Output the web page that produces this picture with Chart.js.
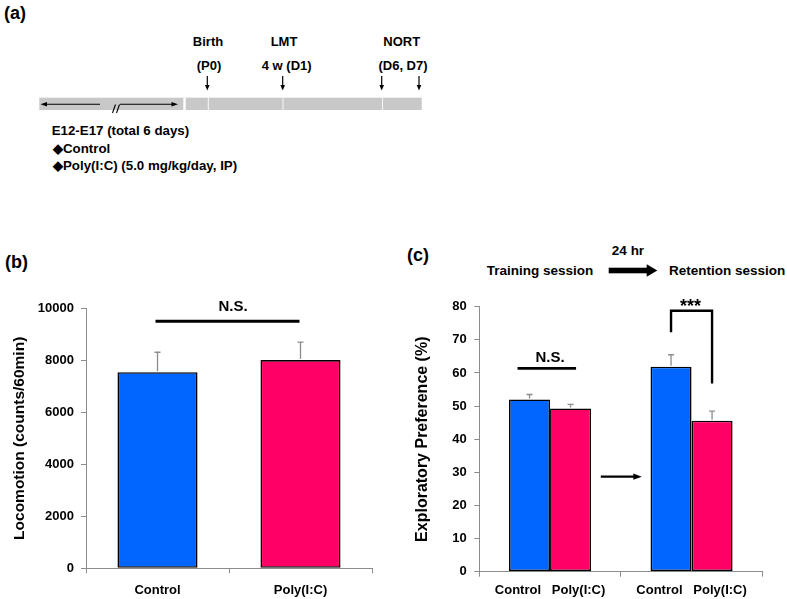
<!DOCTYPE html>
<html><head><meta charset="utf-8">
<script src="https://cdn.jsdelivr.net/npm/chart.js@4.4.1/dist/chart.umd.min.js"></script>
<style>
html,body{margin:0;padding:0;background:#fff;}
body{width:787px;height:599px;position:relative;overflow:hidden;font-family:"Liberation Sans",Arial,sans-serif;}
.abs{position:absolute;}
svg text{font-family:"Liberation Sans",Arial,sans-serif;font-weight:bold;fill:#000;}
</style></head><body>
<svg class="abs" style="left:0;top:0" width="787" height="599">
  <!-- panel labels -->
  <text x="4" y="13" font-size="18" dominant-baseline="central">(a)</text>
  <text x="5" y="262" font-size="18" dominant-baseline="central">(b)</text>
  <text x="407" y="255" font-size="18" dominant-baseline="central">(c)</text>
  <!-- timeline -->
  <rect x="39.3" y="97.7" width="382.4" height="12.3" fill="#c8c8c8"/>
  <rect x="183.3" y="97.7" width="2.4" height="12.3" fill="#fff"/>
  <rect x="207.8" y="97.7" width="1.1" height="12.3" fill="#f4f4f4"/>
  <rect x="282.5" y="97.7" width="1.1" height="12.3" fill="#f4f4f4"/>
  <rect x="382" y="97.7" width="1.1" height="12.3" fill="#f4f4f4"/>
  <g stroke="#000" stroke-width="1.1" fill="none">
    <line x1="45" y1="104.3" x2="100" y2="104.3"/>
    <line x1="120" y1="104.3" x2="174" y2="104.3"/>
    <line x1="112.5" y1="113" x2="115.5" y2="104.5"/>
    <line x1="116.5" y1="113" x2="119.5" y2="104.5"/>
  </g>
  <polygon points="40.5,104.3 47,102 47,106.6" fill="#000"/>
  <polygon points="178,104.3 171.5,102 171.5,106.6" fill="#000"/>
  <g stroke="#000" stroke-width="1.2">
    <line x1="207.3" y1="76" x2="207.3" y2="86"/>
    <line x1="282.7" y1="76" x2="282.7" y2="86"/>
    <line x1="381.7" y1="76" x2="381.7" y2="86"/>
    <line x1="419" y1="76" x2="419" y2="86"/>
  </g>
  <g fill="#000">
    <polygon points="205,85 209.6,85 207.3,90.5"/>
    <polygon points="280.4,85 285,85 282.7,90.5"/>
    <polygon points="379.4,85 384,85 381.7,90.5"/>
    <polygon points="416.7,85 421.3,85 419,90.5"/>
  </g>
  <g font-size="13" text-anchor="middle" dominant-baseline="central">
    <text x="208" y="41.7">Birth</text>
    <text x="209" y="65">(P0)</text>
    <text x="284" y="41.7">LMT</text>
    <text x="286.7" y="65">4 w (D1)</text>
    <text x="401.7" y="41.7">NORT</text>
    <text x="403" y="65">(D6, D7)</text>
  </g>
  <g font-size="13.3" dominant-baseline="central">
    <text x="51.7" y="130">E12-E17 (total 6 days)</text>
    <text x="53" y="148.3">◆Control</text>
    <text x="53" y="165.7">◆Poly(I:C) (5.0 mg/kg/day, IP)</text>
  </g>
  <!-- panel c header -->
  <g font-size="13.5" dominant-baseline="central">
    <text x="628" y="250.7" text-anchor="middle">24 hr</text>
    <text x="486.7" y="270">Training session</text>
    <text x="669" y="270">Retention session</text>
  </g>
  <rect x="608.7" y="267.7" width="39" height="5.6" fill="#000"/>
  <polygon points="646.7,264.3 657.3,270.5 646.7,276.7" fill="#000"/>
</svg>
<canvas class="abs" id="chartB" width="385" height="319" style="left:0;top:280px"></canvas>
<canvas class="abs" id="chartC" width="407" height="369" style="left:380px;top:230px"></canvas>
<script>
// ---------- data ----------
const locoCategories = ['Control', 'Poly(I:C)'];
const locoMeans = [7540, 8010];
const locoErrors = [770, 690];
const locoTicks = [0, 2000, 4000, 6000, 8000, 10000];

const nortGroups = ['Control   Poly(I:C)', 'Control   Poly(I:C)']; // Training, Retention
const nortSeries = ['Control', 'Poly(I:C)'];
const nortControlMeans = [52.0, 61.9];
const nortControlErrors = [1.5, 3.6];
const nortPolyMeans = [49.3, 45.6];
const nortPolyErrors = [1.2, 2.9];
const nortTicks = [0, 10, 20, 30, 40, 50, 60, 70, 80];

// ---------- styles ----------
const FAMILY = '"Liberation Sans", Arial, sans-serif';
const BLUE = '#0066FF', PINK = '#FF0066', AXIS = '#8c8c8c';

function makeErrorBars(errs) {
  return {
    id: 'errorBars',
    afterDatasetsDraw(chart) {
      const ctx = chart.ctx, ys = chart.scales.y;
      chart.data.datasets.forEach((ds, i) => {
        const meta = chart.getDatasetMeta(i);
        meta.data.forEach((bar, j) => {
          const top = ys.getPixelForValue(ds.data[j] + errs[i][j]);
          ctx.save();
          ctx.strokeStyle = AXIS; ctx.lineWidth = 1.3;
          ctx.beginPath();
          ctx.moveTo(bar.x, bar.y - 1); ctx.lineTo(bar.x, top);
          ctx.moveTo(bar.x - 3, top); ctx.lineTo(bar.x + 3, top);
          ctx.stroke(); ctx.restore();
        });
      });
    }
  };
}

function yAxis(ticks, max, title, width, titlePad, titleSize, tickPad) {
  return {
    min: 0, max: max,
    afterBuildTicks: s => { s.ticks = ticks.map(v => ({ value: v })); },
    afterFit: s => { s.width = width; },
    grid: { drawOnChartArea: false, drawTicks: true, tickLength: 5, color: AXIS, lineWidth: 1 },
    border: { display: true, color: AXIS, width: 1 },
    ticks: { color: '#000', font: { family: FAMILY, size: 13, weight: 'bold' }, padding: tickPad, callback: v => String(v) },
    title: { display: true, text: title, color: '#000', font: { family: FAMILY, size: titleSize, weight: 'bold' }, padding: { top: titlePad, bottom: 0 } }
  };
}
function xAxis(height, pad) {
  return {
    offset: true,
    afterFit: s => { s.height = height; },
    grid: { offset: true, drawOnChartArea: false, drawTicks: true, tickLength: 5, color: AXIS, lineWidth: 1 },
    border: { display: true, color: AXIS, width: 1 },
    ticks: { color: '#000', font: { family: FAMILY, size: 13, weight: 'bold' }, padding: pad, maxRotation: 0, autoSkip: false }
  };
}

// ---------- chart (b) ----------
const annotB = {
  id: 'annotB',
  afterDraw(chart) {
    const ctx = chart.ctx, xs = chart.scales.x, ys = chart.scales.y;
    const x0 = xs.getPixelForValue(0), x1 = xs.getPixelForValue(1);
    const yl = ys.getPixelForValue(9500);
    ctx.save();
    ctx.strokeStyle = '#000'; ctx.lineWidth = 3;
    ctx.beginPath(); ctx.moveTo(x0 - 2, yl); ctx.lineTo(x1 - 1, yl); ctx.stroke();
    ctx.fillStyle = '#000'; ctx.font = 'bold 15px ' + FAMILY;
    ctx.textAlign = 'center'; ctx.textBaseline = 'middle';
    ctx.fillText('N.S.', (x0 + x1) / 2 + 4, ys.getPixelForValue(10060));
    ctx.restore();
  }
};
new Chart(document.getElementById('chartB'), {
  type: 'bar',
  data: {
    labels: locoCategories,
    datasets: [{
      data: locoMeans,
      backgroundColor: [BLUE, PINK],
      borderColor: '#000', borderWidth: 1.6, borderSkipped: false,
      barPercentage: 0.56, categoryPercentage: 1.0
    }]
  },
  options: {
    responsive: false, animation: false, devicePixelRatio: 1,
    layout: { padding: { top: 28.3, right: 13, left: 0, bottom: 0 } },
    plugins: { legend: { display: false }, tooltip: { enabled: false } },
    scales: {
      x: xAxis(30.7, 9),
      y: yAxis(locoTicks, 10000, 'Locomotion (counts/60min)', 86, 10.2, 15.5, 7)
    }
  },
  plugins: [makeErrorBars([locoErrors]), annotB]
});

// ---------- chart (c) ----------
const annotC = {
  id: 'annotC',
  afterDraw(chart) {
    const ctx = chart.ctx, xs = chart.scales.x, ys = chart.scales.y;
    const m0 = chart.getDatasetMeta(0), m1 = chart.getDatasetMeta(1);
    ctx.save();
    ctx.strokeStyle = '#000'; ctx.fillStyle = '#000';
    // N.S. over training session
    const c0 = m0.data[0].x, p0 = m1.data[0].x;
    const yl = ys.getPixelForValue(61.4);
    ctx.lineWidth = 2.7;
    ctx.beginPath(); ctx.moveTo(c0 - 12, yl); ctx.lineTo(p0 + 5.5, yl); ctx.stroke();
    ctx.font = 'bold 15px ' + FAMILY; ctx.textAlign = 'center'; ctx.textBaseline = 'middle';
    ctx.fillText('N.S.', (c0 + p0) / 2, ys.getPixelForValue(64.6));
    // bracket *** over retention session
    const c1 = m0.data[1].x, p1 = m1.data[1].x;
    const yt = ys.getPixelForValue(78.8);
    ctx.lineWidth = 2.4; ctx.lineJoin = 'miter';
    ctx.beginPath();
    ctx.moveTo(c1, ys.getPixelForValue(72.3));
    ctx.lineTo(c1, yt); ctx.lineTo(p1, yt);
    ctx.lineTo(p1, ys.getPixelForValue(56.8));
    ctx.stroke();
    ctx.font = 'bold 18px ' + FAMILY; ctx.textBaseline = 'alphabetic';
    ctx.fillText('***', (c1 + p1) / 2 - 1, yt + 1.5);
    // arrow between sessions
    const mid = (xs.getPixelForValue(0) + xs.getPixelForValue(1)) / 2;
    const ya = ys.getPixelForValue(28.7);
    ctx.lineWidth = 2.4;
    ctx.beginPath(); ctx.moveTo(mid - 20, ya); ctx.lineTo(mid + 14, ya); ctx.stroke();
    ctx.beginPath(); ctx.moveTo(mid + 21, ya); ctx.lineTo(mid + 12.5, ya - 3.2); ctx.lineTo(mid + 12.5, ya + 3.2); ctx.closePath(); ctx.fill();
    ctx.restore();
  }
};
new Chart(document.getElementById('chartC'), {
  type: 'bar',
  data: {
    labels: nortGroups,
    datasets: [
      { label: nortSeries[0], data: nortControlMeans, backgroundColor: BLUE, borderColor: '#000', borderWidth: 1.6, borderSkipped: false, barPercentage: 1.0, categoryPercentage: 0.58 },
      { label: nortSeries[1], data: nortPolyMeans, backgroundColor: PINK, borderColor: '#000', borderWidth: 1.6, borderSkipped: false, barPercentage: 1.0, categoryPercentage: 0.58 }
    ]
  },
  options: {
    responsive: false, animation: false, devicePixelRatio: 1,
    layout: { padding: { top: 76.7, right: 24.7, left: 0, bottom: 0 } },
    plugins: { legend: { display: false }, tooltip: { enabled: false } },
    scales: {
      x: xAxis(27.3, 5.5),
      y: yAxis(nortTicks, 80, 'Exploratory Preference (%)', 99.3, 33.4, 16, 7.5)
    }
  },
  plugins: [makeErrorBars([nortControlErrors, nortPolyErrors]), annotC]
});
</script>
</body></html>
